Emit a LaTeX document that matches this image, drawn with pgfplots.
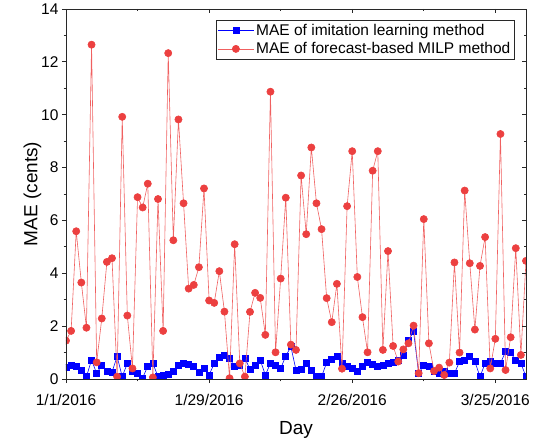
\documentclass[border=0pt]{standalone}
\usepackage{pgfplots}
\pgfplotsset{compat=1.18}
\usepackage{pgfplotstable}
\usepackage{fontspec}
\setmainfont{Liberation Sans}

\definecolor{maered}{RGB}{236,64,64}
\definecolor{maeredline}{RGB}{240,96,96}
\definecolor{maeblue}{RGB}{0,0,255}
\definecolor{framegray}{RGB}{40,40,40}

% MAE of imitation learning method, one value per day from 1/1/2016
\pgfplotstableread{
day mae
0 0.45
1 0.52
2 0.48
3 0.32
4 0.09
5 0.72
6 0.21
7 0.53
8 0.28
9 0.26
10 0.85
11 0.09
12 0.59
13 0.28
14 0.21
15 0.04
16 0.49
17 0.59
18 0.09
19 0.15
20 0.19
21 0.28
22 0.53
23 0.59
24 0.57
25 0.47
26 0.24
27 0.40
28 0.15
29 0.59
30 0.82
31 0.88
32 0.78
33 0.47
34 0.53
35 0.78
36 0.37
37 0.53
38 0.72
39 0.15
40 0.59
41 0.53
42 0.40
43 0.87
44 1.22
45 0.34
46 0.37
47 0.59
48 0.34
49 0.09
50 0.09
51 0.62
52 0.74
53 0.85
54 0.59
55 0.49
56 0.40
57 0.28
58 0.47
59 0.62
60 0.56
61 0.49
62 0.53
63 0.59
64 0.62
65 0.72
66 0.90
67 1.45
68 1.80
69 0.21
70 0.53
71 0.47
72 0.28
73 0.21
74 0.28
75 0.21
76 0.21
77 0.66
78 0.72
79 0.85
80 0.66
81 0.09
82 0.59
83 0.66
84 0.59
85 0.59
86 1.04
87 1.00
88 0.69
89 0.59
90 0.09
}\imitation

% MAE of forecast-based MILP method
\pgfplotstableread{
day mae
0 1.45
1 1.82
2 5.59
3 3.65
4 1.94
5 12.65
6 0.63
7 2.29
8 4.43
9 4.57
10 0.09
11 9.92
12 2.40
13 0.40
14 6.88
15 6.49
16 7.39
17 0.06
18 6.81
19 1.82
20 12.33
21 5.25
22 9.82
23 6.65
24 3.42
25 3.56
26 4.23
27 7.21
28 2.97
29 2.88
30 4.08
31 2.55
32 0.03
33 5.10
34 0.59
35 0.09
36 2.54
37 3.26
38 3.07
39 1.67
40 10.87
41 1.01
42 3.80
43 6.86
44 1.30
45 1.10
46 7.70
47 5.48
48 8.76
49 6.65
50 5.67
51 3.06
52 2.15
53 3.60
54 0.39
55 6.54
56 8.62
57 3.86
58 2.34
59 1.01
60 7.88
61 8.62
62 1.10
63 4.84
64 1.25
65 0.66
66 1.12
67 1.35
68 2.02
69 0.22
70 6.05
71 1.35
72 0.30
73 0.43
74 0.15
75 0.62
76 4.41
77 1.00
78 7.13
79 4.38
80 1.87
81 4.28
82 5.37
83 0.40
84 1.52
85 9.27
86 0.34
87 1.58
88 4.95
89 0.91
90 4.47
}\milp

\pgfplotsset{
  maeframe/.style={
    scale only axis, width=460pt, height=370pt,
    xmin=0, xmax=90, ymin=0, ymax=14,
    xtick={0,28,56,84}, ytick={0,2,...,14},
    minor x tick num=1, minor y tick num=1,
    axis line style={framegray, line width=0.8pt},
    major tick length=4pt, minor tick length=2.3pt,
    every tick/.style={framegray, line width=0.8pt},
  }
}

\begin{document}
\begin{tikzpicture}
\begin{axis}[maeframe,
  tick align=outside, xtick pos=bottom, ytick pos=left,
  xticklabels={1/1/2016,1/29/2016,2/26/2016,3/25/2016},
  tick label style={font=\fontsize{15.5}{18}\selectfont},
  xticklabel style={yshift=-8pt},
  /pgf/number format/assume math mode=true,
  xlabel={Day}, ylabel={MAE (cents)},
  every axis x label/.style={at={(axis description cs:0.5,-0.137)}, anchor=center, font=\fontsize{19}{22}\selectfont},
  every axis y label/.style={at={(axis description cs:-0.073,0.5)}, rotate=90, anchor=center, font=\fontsize{19}{22}\selectfont},
  clip marker paths=true,
  legend style={at={(0.974,0.970)}, anchor=north east, draw=framegray,
    font=\fontsize{15.5}{18}\selectfont, inner sep=1.5pt, row sep=2pt},
  legend cell align=left,
  legend image code/.code={\draw[mark repeat=2, mark phase=2]
    plot coordinates {(0pt,0pt) (18pt,0pt) (36pt,0pt)};},
]
\addplot[maeblue, line width=0.6pt, mark=square*, mark size=3pt,
  mark options={fill=maeblue, draw=maeblue}] table[x=day, y=mae] {\imitation};
\addlegendentry{MAE of imitation learning method}
\addplot[maeredline, line width=0.6pt, mark=*, mark size=3.6pt,
  mark options={fill=maered, draw=maered}] table[x=day, y=mae] {\milp};
\addlegendentry{MAE of forecast-based MILP method}
\end{axis}
\begin{axis}[maeframe, tick align=inside, xtick pos=top, ytick pos=right,
  xticklabels={}, yticklabels={}]
\end{axis}
\pgfresetboundingbox
\path ([shift={(-66pt,-65pt)}]current axis.south west) rectangle ([shift={(474pt,379pt)}]current axis.south west);
\end{tikzpicture}
\end{document}
